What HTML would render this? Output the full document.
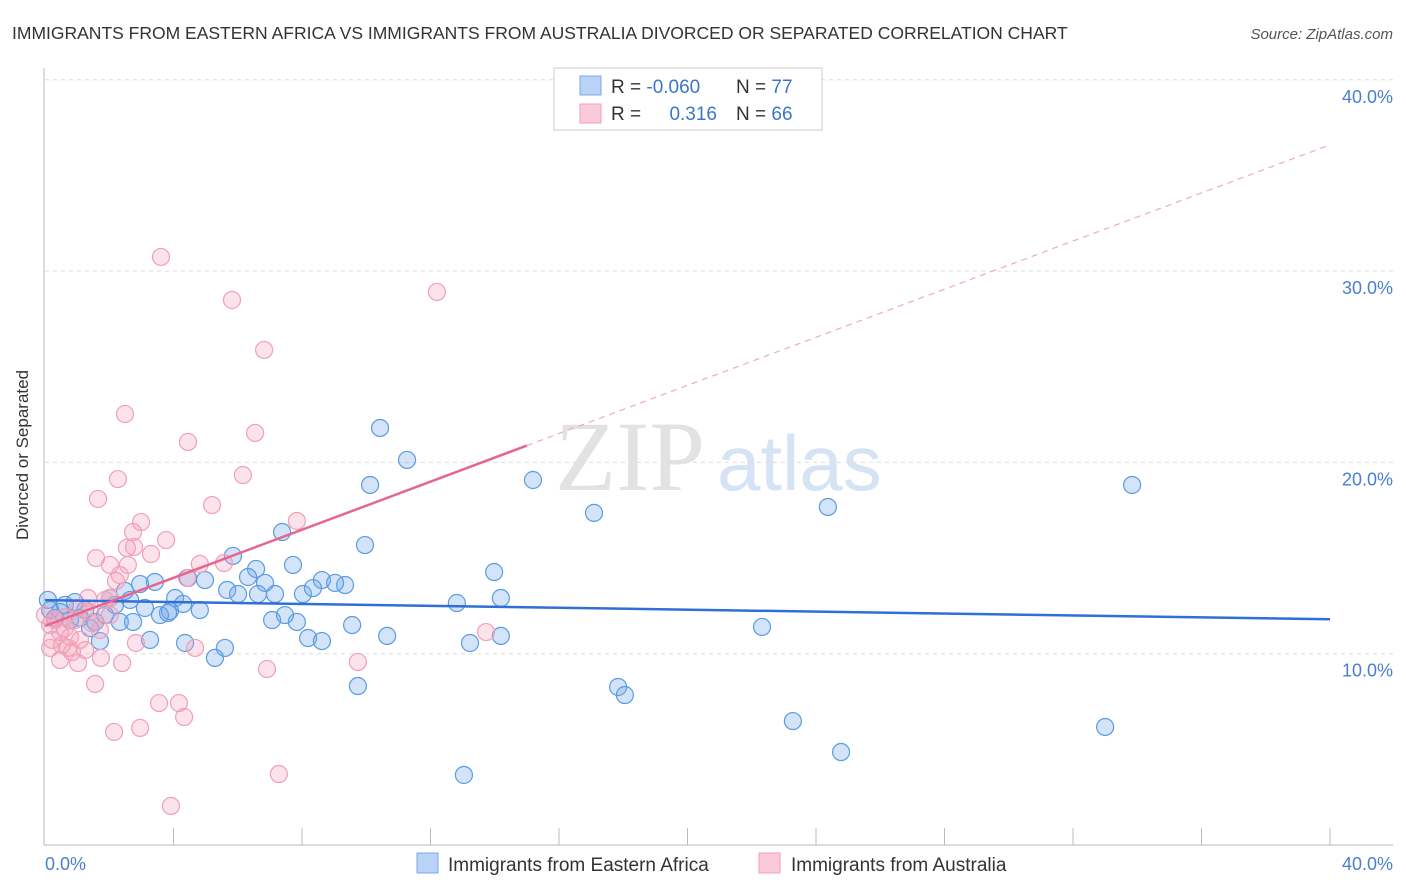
<!DOCTYPE html>
<html><head><meta charset="utf-8"><style>
body{margin:0;background:#fff;font-family:"Liberation Sans",sans-serif;}
</style></head><body>
<svg width="1406" height="892" xmlns="http://www.w3.org/2000/svg" style="display:block">
<text x="12" y="39" font-size="17.5" fill="#333">IMMIGRANTS FROM EASTERN AFRICA VS IMMIGRANTS FROM AUSTRALIA DIVORCED OR SEPARATED CORRELATION CHART</text>
<text x="1393" y="39" font-size="15" fill="#555" font-style="italic" text-anchor="end">Source: ZipAtlas.com</text>
<text x="555" y="490" font-size="100" fill="#e2e2e2" font-family="Liberation Serif,serif">ZIP</text>
<text x="717" y="490" font-size="78" fill="#d5e3f5">atlas</text>
<g id="grid"></g>
<line x1="44" y1="68" x2="44" y2="845" stroke="#bbb"/>
<line x1="44" y1="845" x2="1393" y2="845" stroke="#bbb"/>
<text x="28" y="455" font-size="17" fill="#333" text-anchor="middle" transform="rotate(-90 28 455)">Divorced or Separated</text>
<text x="45" y="870" font-size="18" fill="#4a7fd0">0.0%</text>
<text x="1393" y="870" font-size="18" fill="#4a7fd0" text-anchor="end">40.0%</text>
<g id="pts"></g>
<g id="lines"></g>
<g>
<rect x="554" y="68" width="268" height="62" fill="#fff" stroke="#ccc"/>
<rect x="580" y="76" width="21" height="19" fill="#b8d3f5" stroke="#7aa8e6"/>
<rect x="580" y="104" width="21" height="19" fill="#fbcad8" stroke="#f0a0b8"/>
<text x="611" y="93" font-size="19" fill="#333">R = <tspan fill="#3a74cc">-0.060</tspan></text>
<text x="736" y="93" font-size="19" fill="#333">N = <tspan fill="#3a74cc">77</tspan></text>
<text x="611" y="120" font-size="19" fill="#333">R = </text>
<text x="717" y="120" font-size="19" fill="#3a74cc" text-anchor="end">0.316</text>
<text x="736" y="120" font-size="19" fill="#333">N = <tspan fill="#3a74cc">66</tspan></text>
</g>
<g>
<rect x="417" y="853" width="21" height="20" fill="#b8d3f5" stroke="#7aa8e6"/>
<text x="448" y="871" font-size="19" fill="#333">Immigrants from Eastern Africa</text>
<rect x="759" y="853" width="21" height="20" fill="#fbcad8" stroke="#f0a0b8"/>
<text x="791" y="871" font-size="19" fill="#333">Immigrants from Australia</text>
</g>
</svg>
<script>
const yTicks=[10,20,30,40];
const yTickLabels=["10.0%","20.0%","30.0%","40.0%"];
const xTicks=[4,8,12,16,20,24,28,32,36,40];
const blueX=[10.43,11.27,10.12,15.19,17.09,24.37,33.84,7.38,9.96,5.85,7.72,6.57,2.96,3.42,4.45,4.98,6.32,6.85,8.62,9.34,9.03,13.98,5.67,6.01,6.63,7.16,8.03,8.34,2.02,2.49,4.05,4.30,4.82,3.11,3.89,0.62,0.93,1.25,2.33,2.74,3.58,3.83,7.07,7.84,7.47,9.56,12.82,14.19,10.65,13.23,14.19,8.19,8.62,22.32,3.27,4.36,1.71,5.60,5.29,1.40,9.74,17.84,18.05,23.28,33.0,24.78,13.04,0.31,0.47,0.16,0.78,1.09,1.56,1.87,0.09,2.18,2.65];
const blueY=[21.8,20.13,18.82,19.08,17.36,17.67,18.82,16.36,15.68,15.11,14.64,14.43,13.64,13.75,13.96,13.85,14.01,13.70,13.85,13.59,13.70,14.27,13.33,13.12,13.12,13.12,13.12,13.43,12.91,13.28,12.91,12.60,12.28,12.39,12.23,12.55,12.70,12.28,11.66,11.66,12.02,12.13,11.76,11.66,12.02,11.5,12.65,12.91,10.93,10.56,10.93,10.82,10.66,11.40,10.72,10.56,10.66,10.30,9.78,11.34,8.31,8.26,7.84,6.48,6.17,4.86,3.66,11.87,12.18,12.28,11.76,11.87,11.66,12.02,12.81,12.55,12.81];
const pinkX=[3.61,5.82,12.2,6.82,2.49,4.45,6.54,2.27,6.16,1.65,5.2,2.99,7.84,2.74,3.77,1.59,3.3,2.55,2.77,2.02,2.58,4.82,5.57,2.33,2.21,4.42,2.02,1.87,1.4,0.93,0.62,0.31,0.16,0.47,0.78,0.22,1.09,0.53,0.72,0.84,1.25,1.46,1.71,2.02,0.47,1.03,1.74,2.83,4.67,2.4,9.74,6.91,13.73,1.56,3.55,4.17,4.33,2.96,2.15,7.28,3.92,1.03,1.34,0.16,0.62,0.0];
const pinkY=[30.74,28.49,28.91,25.88,22.53,21.07,21.54,19.13,19.34,18.09,17.77,16.88,16.94,16.36,15.94,15.0,15.21,15.53,15.58,14.64,14.64,14.69,14.74,14.11,13.8,13.96,12.91,12.81,12.18,11.76,11.92,11.76,11.5,11.13,10.87,10.72,10.72,10.45,10.3,10.09,10.19,11.6,11.24,12.02,9.67,9.51,9.78,10.56,10.3,9.51,9.57,9.2,11.13,8.42,7.42,7.42,6.69,6.12,5.91,3.71,2.04,12.39,12.91,10.3,11.34,12.02];
const blueLine=[12.8,11.8];
const pinkLine=[11.45,36.6];
const pinkSolidEnd=15.0;
const NS="http://www.w3.org/2000/svg";
const sx=v=>45+v*32.125, sy=v=>845-v*19.13;
function mk(tag,attrs,parent){const e=document.createElementNS(NS,tag);for(const k in attrs)e.setAttribute(k,attrs[k]);parent.appendChild(e);return e;}
const grid=document.getElementById('grid');
yTicks.forEach((t,i)=>{
 const l=mk('line',{x1:45,x2:1393,y1:sy(t),y2:sy(t),stroke:'#ddd','stroke-dasharray':'4,4'},grid);
 
 
 const tx=mk('text',{x:1393,y:sy(t)+23,'font-size':18,fill:'#4a7fd0','text-anchor':'end'},grid);
 tx.textContent=yTickLabels[i];
 
 
});
xTicks.forEach(t=>{
 const l=mk('line',{x1:sx(t),x2:sx(t),y1:828,y2:845,stroke:'#bbb'},grid);
 
 
});
const pts=document.getElementById('pts');
blueX.forEach((x,i)=>{
 const c=mk('circle',{cx:sx(x),cy:sy(blueY[i]),r:8.5,fill:'rgba(110,165,235,0.3)',stroke:'#5b9be0','stroke-width':1.2},pts);
 
 
});
pinkX.forEach((x,i)=>{
 const c=mk('circle',{cx:sx(x),cy:sy(pinkY[i]),r:8.5,fill:'rgba(245,160,185,0.3)',stroke:'#f0a0b8','stroke-width':1.2},pts);
 
 
});
const lines=document.getElementById('lines');
const bl=mk('line',{x1:sx(0),y1:sy(blueLine[0]),x2:sx(40),y2:sy(blueLine[1]),stroke:'#2f6fd6','stroke-width':2.5},lines);


const pAt=x=>pinkLine[0]+(pinkLine[1]-pinkLine[0])*x/40;
const pl=mk('line',{x1:sx(0),y1:sy(pAt(0)),x2:sx(pinkSolidEnd),y2:sy(pAt(pinkSolidEnd)),stroke:'#e8668e','stroke-width':2.5},lines);


const pd=mk('line',{x1:sx(pinkSolidEnd),y1:sy(pAt(pinkSolidEnd)),x2:sx(40),y2:sy(pAt(40)),stroke:'#ecaabd','stroke-width':1.2,'stroke-dasharray':'6,5'},lines);


</script>
</body></html>
